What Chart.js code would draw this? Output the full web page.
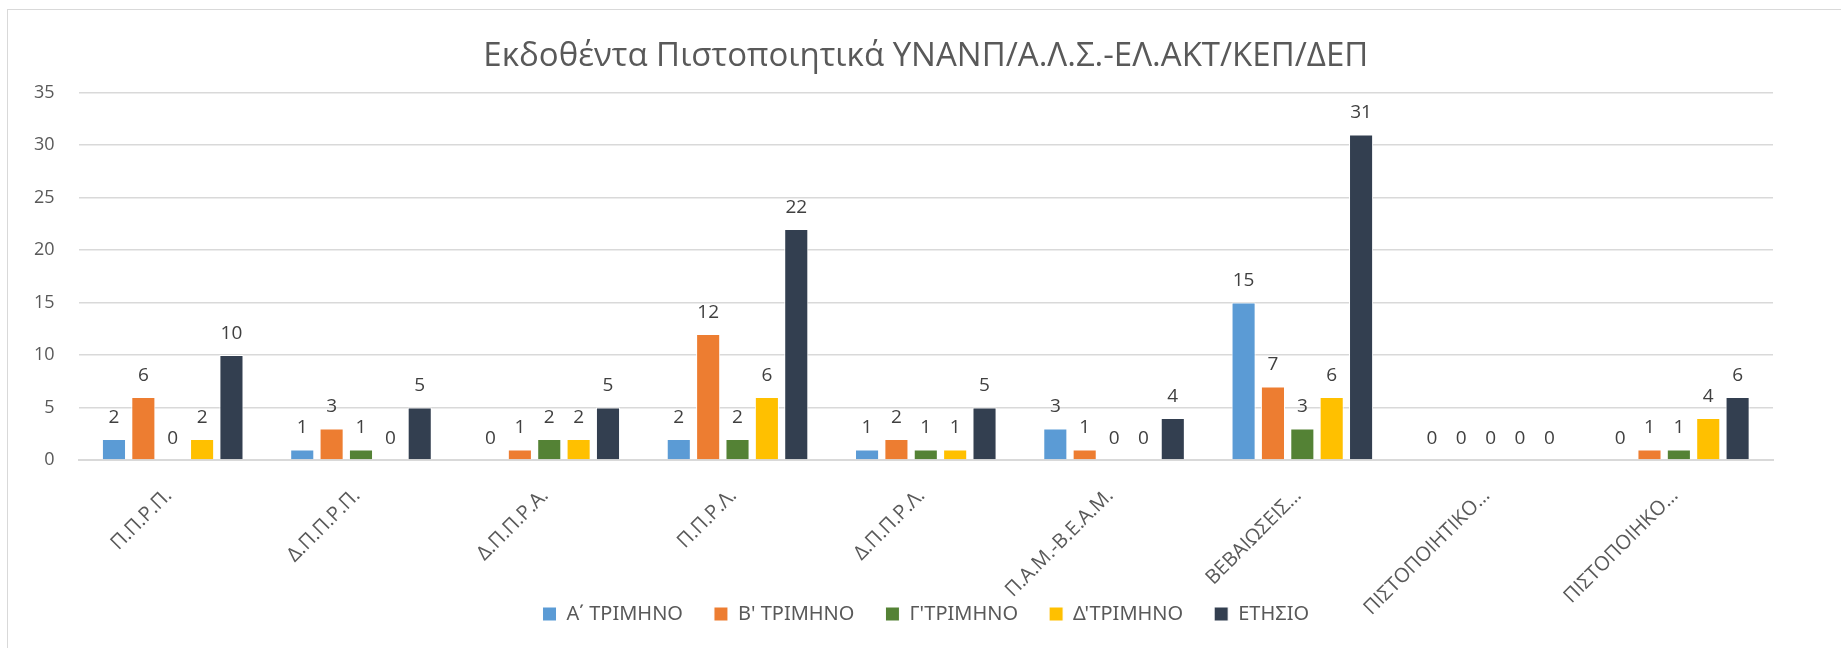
<!DOCTYPE html>
<html>
<head>
<meta charset="utf-8">
<script src="https://cdn.jsdelivr.net/npm/chart.js@4/dist/chart.umd.min.js"></script>
<style>
  html, body { margin: 0; padding: 0; background: #fff; overflow: hidden; }
  #frame { position: absolute; left: 7px; top: 9px; width: 1850px; height: 700px; border: 1px solid #d9d9d9; }
  #wrap { position: absolute; left: 0; top: 0; width: 1841px; height: 648px; }
</style>
</head>
<body>
<div id="frame"></div>
<div id="wrap"><canvas id="chart" width="1841" height="648"></canvas></div>
<script>
// Categories (as shown, truncated in the original)
var categories = ["Π.Π.Ρ.Π.", "Δ.Π.Π.Ρ.Π.", "Δ.Π.Π.Ρ.Α.", "Π.Π.Ρ.Λ.", "Δ.Π.Π.Ρ.Λ.",
  "Π.Α.Μ.-Β.Ε.Α.Μ.", "ΒΕΒΑΙΩΣΕΙΣ…", "ΠΙΣΤΟΠΟΙΗΤΙΚΟ…", "ΠΙΣΤΟΠΟΙΗΚΟ…"];

// Series values
var quarterA = [2, 1, 0, 2, 1, 3, 15, 0, 0];
var quarterB = [6, 3, 1, 12, 2, 1, 7, 0, 1];
var quarterC = [0, 1, 2, 2, 1, 0, 3, 0, 1];
var quarterD = [2, 0, 2, 6, 1, 0, 6, 0, 4];
var yearly = [10, 5, 5, 22, 5, 4, 31, 0, 6];

var seriesNames = ["Α΄ ΤΡΙΜΗΝΟ", "Β' ΤΡΙΜΗΝΟ", "Γ'ΤΡΙΜΗΝΟ", "Δ'ΤΡΙΜΗΝΟ", "ΕΤΗΣΙΟ"];
var seriesColors = ["#5B9BD5", "#ED7D31", "#548235", "#FFC000", "#333F50"];
var seriesData = [quarterA, quarterB, quarterC, quarterD, yearly];

var FONT = "'Open Sans', 'Noto Sans', sans-serif";

// Value labels above every bar
var valueLabels = {
  id: 'valueLabels',
  afterDatasetsDraw: function (chart) {
    var ctx = chart.ctx;
    ctx.save();
    ctx.font = "19px " + FONT;
    ctx.fillStyle = "#404040";
    ctx.textAlign = "center";
    ctx.textBaseline = "bottom";
    chart.data.datasets.forEach(function (ds, i) {
      chart.getDatasetMeta(i).data.forEach(function (bar, j) {
        ctx.fillText(String(ds.data[j]), bar.x, bar.y - 12);
      });
    });
    ctx.restore();
  }
};

var datasets = seriesData.map(function (values, i) {
  return {
    label: seriesNames[i],
    data: values,
    backgroundColor: seriesColors[i],
    borderColor: "#ffffff",
    borderWidth: 1,
    categoryPercentage: 0.78,
    barPercentage: 0.82
  };
});

new Chart(document.getElementById("chart"), {
  type: 'bar',
  data: { labels: categories, datasets: datasets },
  plugins: [valueLabels],
  options: {
    responsive: false,
    animation: false,
    layout: { padding: { left: 10, right: 68, top: 37, bottom: 14 } },
    plugins: {
      title: {
        display: true,
        fullSize: false,
        text: "Εκδοθέντα Πιστοποιητικά ΥΝΑΝΠ/Α.Λ.Σ.-ΕΛ.ΑΚΤ/ΚΕΠ/ΔΕΠ",
        color: "#595959",
        font: { family: FONT, size: 33, weight: 'normal' },
        padding: { top: 0, bottom: 16 }
      },
      legend: {
        position: 'bottom',
        fullSize: false,
        labels: {
          color: "#595959",
          font: { family: "'Noto Sans', 'Open Sans', sans-serif", size: 20 },
          boxWidth: 14,
          boxHeight: 14,
          padding: 31
        }
      },
      tooltip: { enabled: false }
    },
    scales: {
      x: {
        grid: { display: false },
        border: { color: "#d9d9d9", width: 2 },
        ticks: {
          color: "#595959",
          font: { family: FONT, size: 20 },
          minRotation: 45,
          maxRotation: 45,
          autoSkip: false,
          padding: 16,
          labelOffset: -4
        },
        afterFit: function (scale) {
          scale.height = 113;
          // let the rotated labels run past the axis box, as in the original
          scale._computeLabelArea = function () { return undefined; };
        }
      },
      y: {
        min: 0,
        max: 35,
        border: { display: false },
        grid: { color: "#d9d9d9", lineWidth: 1.5, drawTicks: false },
        ticks: {
          stepSize: 5,
          color: "#595959",
          font: { family: FONT, size: 18 },
          padding: 24
        }
      }
    }
  }
});
</script>
</body>
</html>
